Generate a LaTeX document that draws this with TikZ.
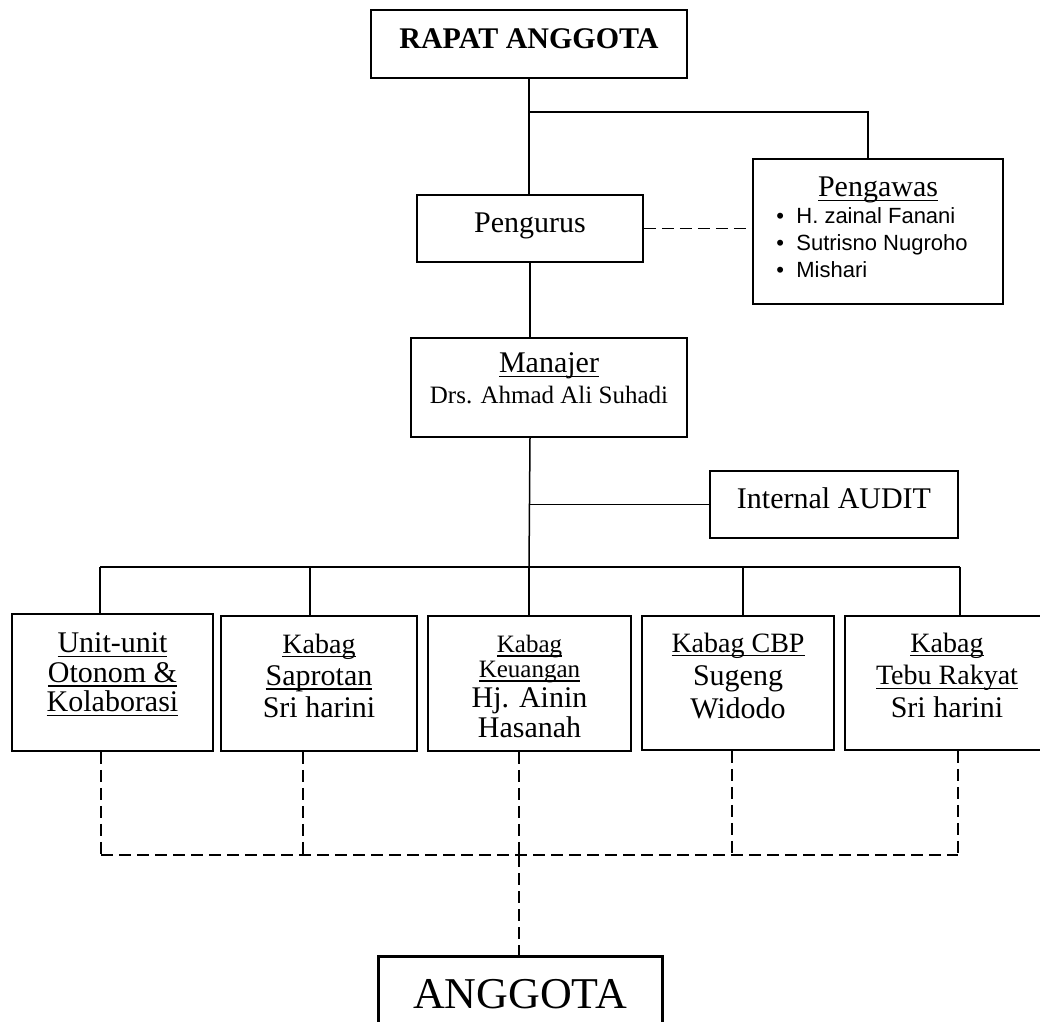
\documentclass[tikz,border=0pt]{standalone}
\usepackage{fontspec}
\setmainfont{Liberation Serif}
\newfontfamily\arialfont{Liberation Sans}
\usepackage{tikz}
\newcommand{\setfs}[2]{\fontsize{#1}{#2}\selectfont}
\newsavebox{\ulnbox}
\newcommand{\uln}[1]{\sbox\ulnbox{#1}\leavevmode\rlap{\rule[-0.15em]{\wd\ulnbox}{0.05em}}\usebox\ulnbox}
\tikzset{
	unitbox/.style={draw=black, line width=1.5pt, rectangle, inner sep=0pt, align=center},
	solidlink/.style={draw=black, line width=1.5pt},
	dashlink/.style={draw=black, line width=1.5pt, dash pattern=on 12pt off 6pt},
}

\begin{document}
\begin{tikzpicture}[x=1pt, y=-1pt]
			\useasboundingbox (0,0) rectangle (1040,1021);
			\clip (0,0) rectangle (1040,1021);

			\node[unitbox, minimum width=316pt, minimum height=68pt,
			font={\bfseries\setfs{30}{30}}, text depth=10pt] (rapat) at (529,44) {RAPAT ANGGOTA};
			\node[unitbox, minimum width=226pt, minimum height=67pt,
			font={\setfs{30}{30}}, text depth=11pt] (pengurus) at (530,228.5) {Pengurus};
			\node[unitbox, minimum width=250pt, minimum height=145pt] (pengawas) at (878,231.5) {
				\arialfont\setfs{22}{27}%
				\begin{tabular}{@{}l@{}}
					\multicolumn{1}{@{}c@{}}{\hspace*{12pt}\rmfamily\setfs{30}{27}\uln{Pengawas}}\\
					\makebox[20pt][l]{•}H. zainal Fanani\\
					\makebox[20pt][l]{•}Sutrisno Nugroho\\
					\makebox[20pt][l]{•}Mishari
				\end{tabular}\hspace*{12pt}%
			};
			\node[unitbox, minimum width=276pt, minimum height=99pt,
			font={\setfs{30}{31}}, text depth=18pt] (manajer) at (549,387.5) {
				\uln{Manajer}\\{\setfs{25}{31}Drs. Ahmad Ali Suhadi}
			};
			\node[unitbox, minimum width=248pt, minimum height=67pt,
			font={\setfs{30}{30}}, text depth=13.5pt] (audit) at (834,504.5) {Internal AUDIT};

			\node[unitbox, minimum width=201pt, minimum height=137pt,
			font={\setfs{30}{29.5}}, text depth=20.5pt] (unit) at (112.5,682.5) {
				\uln{Unit-unit}\\\uln{Otonom \&}\\\uln{Kolaborasi}
			};
			\node[unitbox, minimum width=196pt, minimum height=135pt,
			font={\setfs{30}{32}}, text depth=16pt] (saprotan) at (319,683.5) {
				{\setfs{28}{32}\uln{Kabag}}\\\uln{Saprotan}\\Sri harini
			};
			\node[unitbox, minimum width=203pt, minimum height=135pt,
			font={\setfs{30}{30}}, text height=109pt] (keuangan) at (529.5,683.5) {
				{\setfs{25}{30}\uln{Kabag}}\\[-5pt]{\setfs{25}{30}\uln{Keuangan}}\\Hj. Ainin\\Hasanah
			};
			\node[unitbox, minimum width=192pt, minimum height=134pt,
			font={\setfs{30}{33}}, text depth=15pt] (cbp) at (738,683) {
				{\setfs{28}{33}\uln{Kabag CBP}}\\Sugeng\\Widodo
			};
			\node[unitbox, minimum width=204pt, minimum height=134pt,
			font={\setfs{30}{32.5}}, text depth=16pt] (tebu) at (947,683) {
				{\setfs{28}{32.5}\uln{Kabag}}\\{\setfs{28}{32.5}\uln{Tebu Rakyat}}\\Sri harini
			};

			\node[unitbox, line width=3pt, minimum width=284pt, minimum height=84pt,
			font={\setfs{44}{44}}, text depth=9pt] (anggota) at (520,998) {ANGGOTA};

			\coordinate (jtop) at (529,112);
			\coordinate (jaudit) at (529,504.5);
			\coordinate (jbar) at (529,567);

			\draw[solidlink] (rapat.south) -- (rapat.south |- pengurus.north);
			\draw[solidlink] (jtop) -| ([xshift=-10pt]pengawas.north);
			\draw[dashlink] (pengurus.east) -- (pengurus.east -| pengawas.west);
			\draw[solidlink] (pengurus.south) -- (pengurus.south |- manajer.north);
			\draw[solidlink] (pengurus.south |- manajer.south) -- (jbar);
			\draw[solidlink] (jaudit) -- (audit.west);

			\foreach \name/\xpos in {unit/100, saprotan/310, keuangan/529, cbp/743, tebu/960}{
				\coordinate (up-\name) at (\xpos,567);
				\draw[solidlink] (up-\name) -- (up-\name |- \name.north);
			}
			\draw[solidlink] (up-unit) -- (up-tebu);

			\foreach \name/\xpos in {unit/101, saprotan/303, keuangan/519, cbp/732, tebu/958}{
				\coordinate (dn-\name) at (\xpos,855);
				\draw[dashlink] (dn-\name |- \name.south) -- (dn-\name);
			}
			\draw[dashlink] (dn-unit) -- (dn-tebu);
			\draw[dashlink] (dn-keuangan) -- (dn-keuangan |- anggota.north);
\end{tikzpicture}
\end{document}
